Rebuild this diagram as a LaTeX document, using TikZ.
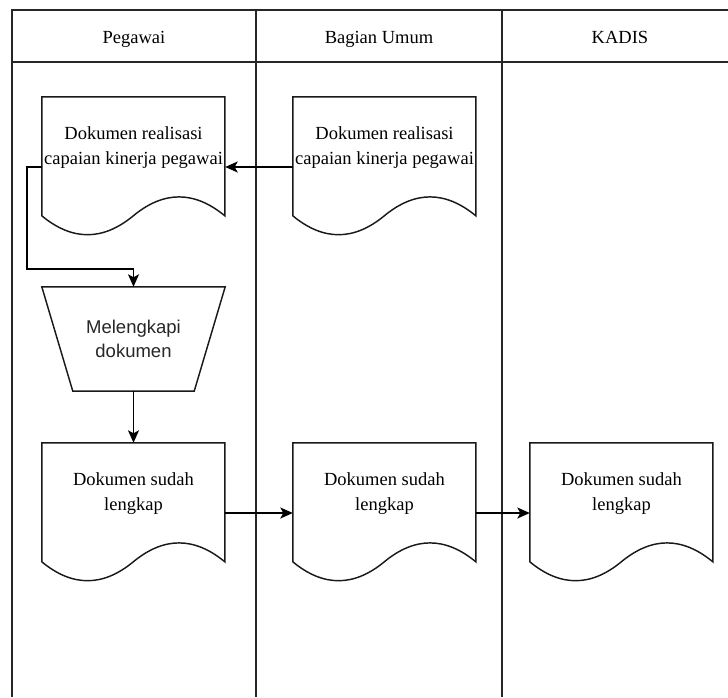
\documentclass[tikz,border=0pt]{standalone}
\usepackage{fontspec}
\setmainfont{Liberation Serif}
\newfontfamily\helvfont{Liberation Sans}
\usetikzlibrary{calc,arrows.meta}

% document symbol: flat top, wavy bottom (183 x 140)
\newcommand\docoutline[1]{%
  \draw[shapeline,shift={(#1.north west)}] (0,0) -- (183,0) -- (183,119)
    .. controls (152.5,93.8) and (122,93.8) .. (91.5,119)
    .. controls (61,144.2) and (30.5,144.2) .. (0,119) -- cycle;}

\begin{document}
\begin{tikzpicture}[x=1pt,y=-1pt,
  lane/.style={line width=1.6pt,black!85},
  shapeline/.style={line width=1.45pt,black!90,line join=miter},
  flow/.style={line width=1.45pt,black,-{Stealth[length=12.5pt,width=11pt,inset=3pt]}},
  hdr/.style={font=\fontsize{18.5}{22}\selectfont,inner sep=0pt},
  docbox/.style={minimum width=183pt,minimum height=140pt,inner sep=0pt,draw=none},
  doctext/.style={font=\fontsize{18.5}{25}\selectfont,align=center,inner sep=0pt},
  manualbox/.style={minimum width=183pt,minimum height=104pt,inner sep=0pt,draw=none,
    font=\helvfont\fontsize{18.5}{23.5}\selectfont,align=center,text=black!85}
]
\useasboundingbox[fill=white] (0,0) rectangle (728,697);

% swimlane frame
\draw[lane] (728,10) -- (12,10) -- (12,697);
\draw[lane] (12,62) -- (728,62);
\draw[lane] (256,10) -- (256,697);
\draw[lane] (502,10) -- (502,697);

% lane titles
\node[hdr,anchor=base] (hPeg) at (134,43) {Pegawai};
\node[hdr,anchor=base] (hBag) at (379,43) {Bagian Umum};
\node[hdr,anchor=base] (hKad) at (620,43) {KADIS};

% documents
\node[docbox] (dPeg) at (133.5,167) {};
\node[docbox] (dBag) at (384.5,167) {};
\node[docbox] (sPeg) at (133.5,513) {};
\node[docbox] (sBag) at (384.5,513) {};
\node[docbox] (sKad) at (621.5,513) {};
\docoutline{dPeg}
\docoutline{dBag}
\docoutline{sPeg}
\docoutline{sBag}
\docoutline{sKad}

\node[doctext] (tdPeg) at (133.5,148) {Dokumen realisasi\\capaian kinerja pegawai};
\node[doctext] (tdBag) at (384.5,148) {Dokumen realisasi\\capaian kinerja pegawai};
\node[doctext] (tsPeg) at (133.5,494) {Dokumen sudah\\lengkap};
\node[doctext] (tsBag) at (384.5,494) {Dokumen sudah\\lengkap};
\node[doctext] (tsKad) at (621.5,494) {Dokumen sudah\\lengkap};

% manual operation
\node[manualbox] (mPeg) at (133.5,339) {Melengkapi\\dokumen};
\draw[shapeline] (mPeg.north west) -- (mPeg.north east)
  -- ($(mPeg.south east)+(-31,0)$) -- ($(mPeg.south west)+(31,0)$) -- cycle;

% flow
\coordinate (loop) at (27,269);
\draw[flow] (dBag.west) -- (dPeg.east);
\draw[flow] (dPeg.west) -| (loop) -| (mPeg.north);
\draw[flow] (mPeg.south) -- (sPeg.north);
\draw[flow] (sPeg.east) -- (sBag.west);
\draw[flow] (sBag.east) -- (sKad.west);
\end{tikzpicture}
\end{document}
